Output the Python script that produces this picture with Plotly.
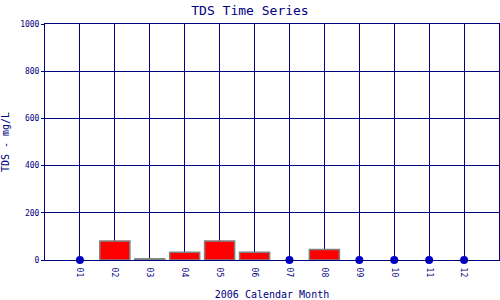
import plotly.graph_objects as go

months = ["01", "02", "03", "04", "05", "06", "07", "08", "09", "10", "11", "12"]
tds = [0, 80, 5, 33, 80, 33, 0, 45, 0, 0, 0, 0]

navy = "#000080"
font = "DejaVu Sans Mono"

xpos = list(range(1, len(months) + 1))
bar_x = [x for x, v in zip(xpos, tds) if v > 0]
bar_y = [v for v in tds if v > 0]
dot_x = [x for x, v in zip(xpos, tds) if v == 0]
dot_y = [v for v in tds if v == 0]

fig = go.Figure()
fig.add_trace(go.Bar(x=bar_x, y=bar_y, width=0.86,
                     marker=dict(color="#ff0000", line=dict(color="#808080", width=1.5))))
fig.add_trace(go.Scatter(x=dot_x, y=dot_y, mode="markers", cliponaxis=False,
                         marker=dict(color="#0000cc", size=8, symbol="circle")))

fig.update_layout(
    width=500, height=300,
    margin=dict(l=45, r=1, t=24, b=40),
    paper_bgcolor="white", plot_bgcolor="white",
    showlegend=False,
    title=dict(text="TDS Time Series", x=0.5, xanchor="center", y=1 - 10 / 300,
               yanchor="middle", yref="container",
               font=dict(family=font, size=13, color=navy)),
    xaxis=dict(range=[0, 13], tickvals=xpos, ticktext=months, tickangle=90,
               automargin=False,
               showgrid=True, gridcolor=navy, gridwidth=1,
               showline=True, linecolor=navy, linewidth=1, mirror=True,
               zeroline=False, ticks="outside", ticklen=5, tickcolor="rgba(0,0,0,0)",
               tickfont=dict(family=font, size=8, color=navy),
               title=dict(text="2006 Calendar Month", standoff=20,
                          font=dict(family=font, size=10, color=navy))),
    yaxis=dict(range=[0, 1000], dtick=200, automargin=False,
               showgrid=True, gridcolor=navy, gridwidth=1,
               showline=True, linecolor=navy, linewidth=1, mirror=True,
               zeroline=False, ticks="outside", ticklen=3, tickcolor=navy,
               tickfont=dict(family=font, size=8, color=navy),
               title=dict(text="TDS - mg/L", standoff=10,
                          font=dict(family=font, size=10, color=navy))),
)

fig.write_html("out.html")
